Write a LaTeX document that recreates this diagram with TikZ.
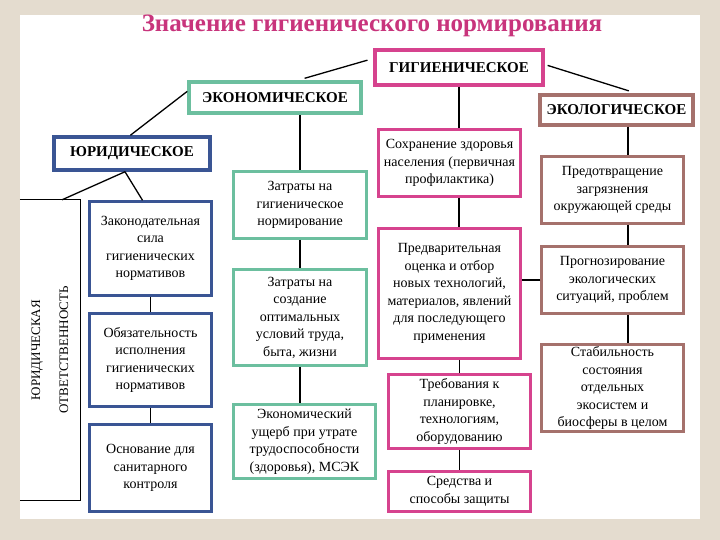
\documentclass[tikz,border=0pt]{standalone}
\usepackage{fontspec}
\setmainfont{Liberation Serif}
\usetikzlibrary{positioning}
\definecolor{PanelBeige}{HTML}{E4DCCF}
\definecolor{TitlePink}{HTML}{C8347C}
\definecolor{HygPink}{HTML}{D6438E}
\definecolor{EconTeal}{HTML}{6CBF9F}
\definecolor{EcolBrown}{HTML}{A5716C}
\definecolor{JurBlue}{HTML}{3A5594}

\begin{document}
\begin{tikzpicture}[x=1pt,y=-1pt,
  head/.style={draw=#1,line width=3.5pt,fill=white,inner sep=0pt,font=\fontsize{15}{18}\selectfont\bfseries},
  item/.style={draw=#1,line width=2.5pt,fill=white,inner sep=0pt,align=center,font=\fontsize{14}{17.5}\selectfont},
  link/.style={line width=1.3pt}]
   \fill[PanelBeige] (0,0) rectangle (720,540);
   \fill[white] (20,15) rectangle (700,519);
   \useasboundingbox (0,0) rectangle (720,540);

   \node[font=\fontsize{25}{30}\selectfont\bfseries,text=TitlePink] (title) at (372,26) {Значение гигиенического нормирования};

   \node[head=HygPink,minimum width=168pt,minimum height=35pt] (gig) at (459,67.5) {ГИГИЕНИЧЕСКОЕ};
   \node[head=EconTeal,minimum width=172pt,minimum height=31pt] (econ) at (275,97.5) {ЭКОНОМИЧЕСКОЕ};
   \node[head=EcolBrown,minimum width=153pt,minimum height=30pt] (ecol) at (616.5,110) {ЭКОЛОГИЧЕСКОЕ};
   \node[head=JurBlue,minimum width=156pt,minimum height=33pt] (jur) at (132,153.5) {ЮРИДИЧЕСКОЕ};

   \node[item=JurBlue,minimum width=122pt,minimum height=94pt] (zak) at (150.5,248.5) {Законодательная\\сила\\гигиенических\\нормативов};
   \node[item=JurBlue,minimum width=122pt,minimum height=93pt] (obyaz) at (150.5,360) {Обязательность\\исполнения\\гигиенических\\нормативов};
   \node[item=JurBlue,minimum width=122pt,minimum height=87pt] (osn) at (150.5,468) {Основание для\\санитарного\\контроля};
   \node[minimum width=60pt,minimum height=300pt,inner sep=0pt] (otv) at (50,350) {};
   \node[rotate=90,align=center,font=\fontsize{13}{16}\selectfont] (otvtext) at (otv.center) {ЮРИДИЧЕСКАЯ\\[12pt]ОТВЕТСТВЕННОСТЬ};

   \node[item=EconTeal,minimum width=133pt,minimum height=67pt] (zat1) at (300,205) {Затраты на\\гигиеническое\\нормирование};
   \node[item=EconTeal,minimum width=133pt,minimum height=96pt] (zat2) at (300,317.5) {Затраты на\\создание\\оптимальных\\условий труда,\\быта, жизни};
   \node[item=EconTeal,minimum width=142pt,minimum height=74pt] (ush) at (304.5,441.5) {Экономический\\ущерб при утрате\\трудоспособности\\(здоровья), МСЭК};

   \node[item=HygPink,minimum width=142pt,minimum height=67pt] (sohr) at (449.5,163) {Сохранение здоровья\\населения (первичная\\профилактика)};
   \node[item=HygPink,minimum width=142pt,minimum height=130pt] (pred) at (449.5,293.5) {Предварительная\\оценка и отбор\\новых технологий,\\материалов, явлений\\для последующего\\применения};
   \node[item=HygPink,minimum width=142pt,minimum height=74pt] (treb) at (459.5,411.5) {Требования к\\планировке,\\технологиям,\\оборудованию};
   \node[item=HygPink,minimum width=142pt,minimum height=40pt] (sred) at (459.5,491.5) {Средства и\\способы защиты};

   \node[item=EcolBrown,minimum width=142pt,minimum height=67pt] (predot) at (612.5,190) {Предотвращение\\загрязнения\\окружающей среды};
   \node[item=EcolBrown,minimum width=142pt,minimum height=67pt] (progn) at (612.5,280) {Прогнозирование\\экологических\\ситуаций, проблем};
   \node[item=EcolBrown,minimum width=142pt,minimum height=87pt] (stab) at (612.5,388) {Стабильность\\состояния\\отдельных\\экосистем и\\биосферы в целом};

   % top branches
   \draw[link,shorten <=6pt,shorten >=7pt] (gig.174) -- (econ.37);
   \draw[link,shorten <=3pt,shorten >=8pt] (gig.2) -- (ecol.40);
   \draw[link] (econ.176) -- (jur.95);
   \coordinate (jurfoot) at ([xshift=-7pt]jur.south);
   \draw[link] (jurfoot) -- ([xshift=-8pt]zak.north);
   \draw[link] (jurfoot) -- ([xshift=12pt]otv.north);
   \draw[line width=1pt] (otv.north west) -- (otv.north east) -- (otv.south east) -- (otv.south west);

   % columns
   \draw[link] (zak) -- (obyaz) -- (osn);
   \draw[link] (zat1.north) -- (zat1.north |- econ.south);
   \draw[link] (zat1) -- (zat2);
   \draw[link] (zat2.south) -- (zat2.south |- ush.north);
   \draw[link] (gig.south) -- (gig.south |- sohr.north);
   \draw[link] (sohr.south -| gig.south) -- (pred.north -| gig.south);
   \draw[link] (pred.south -| treb.north) -- (treb.north);
   \draw[link] (treb) -- (sred);
   \draw[link] ([xshift=11.5pt]ecol.south) -- ([xshift=11.5pt]ecol.south |- predot.north);
   \draw[link] ([xshift=15.5pt]predot.south) -- ([xshift=15.5pt]progn.north);
   \draw[link] ([xshift=15.5pt]progn.south) -- ([xshift=15.5pt]stab.north);
   \draw[link] (progn.west) -- (progn.west -| pred.east);
\end{tikzpicture}
\end{document}
